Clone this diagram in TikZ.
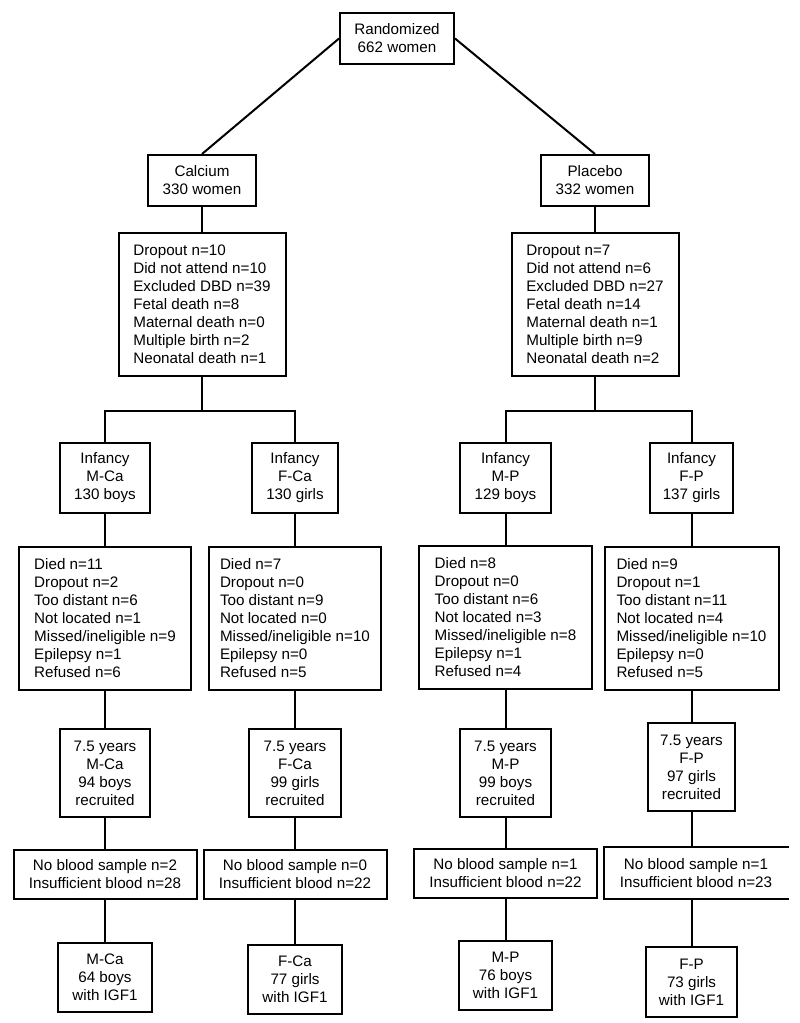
\documentclass[tikz,border=0pt]{standalone}
\usepackage{fontspec}
\setmainfont{Liberation Sans}
\usetikzlibrary{positioning}

\begin{document}
\begin{tikzpicture}[
    x=1pt, y=-1pt,
    box/.style={rectangle, draw, line width=2pt, inner sep=0pt, align=center, font=\fontsize{15.2}{18}\selectfont},
    arm/.style={box, minimum width=108pt, minimum height=51pt},
    list/.style={box, align=left, minimum height=143pt},
    infancy/.style={box, minimum height=70pt},
    recruit/.style={box, minimum height=88pt},
    blood/.style={box, minimum width=183pt, minimum height=49pt},
    igf/.style={box, minimum height=69pt},
    link/.style={line width=2pt}
]
\useasboundingbox (0,0) rectangle (800,1023);

% Randomization and the two arms
\node[box, minimum width=114pt, minimum height=51pt] (rand) at (397,38.5) {Randomized\\662 women};
\node[arm] (ca) at (202,180.5) {Calcium\\330 women};
\node[arm] (pl) at (595,180.5) {Placebo\\332 women};

\node[list, minimum width=167pt, below=25pt of ca] (ca-excl) {Dropout n=10\\Did not attend n=10\\Excluded DBD n=39\\Fetal death n=8\\Maternal death n=0\\Multiple birth n=2\\Neonatal death n=1};
\node[list, minimum width=167pt, below=25pt of pl] (pl-excl) {Dropout n=7\\Did not attend n=6\\Excluded DBD n=27\\Fetal death n=14\\Maternal death n=1\\Multiple birth n=9\\Neonatal death n=2};

\coordinate[below=34pt of ca-excl] (ca-split);
\coordinate[below=34pt of pl-excl] (pl-split);

% Infancy groups
\node[infancy, minimum width=90pt] (mca-inf) at (105,478) {Infancy\\M-Ca\\130 boys};
\node[infancy, minimum width=86pt] (fca-inf) at (295,478) {Infancy\\F-Ca\\130 girls};
\node[infancy, minimum width=91pt] (mp-inf) at (505.5,478) {Infancy\\M-P\\129 boys};
\node[infancy, minimum width=83pt] (fp-inf) at (691.5,478) {Infancy\\F-P\\137 girls};

% Losses after infancy
\node[list, minimum width=172pt, below=32pt of mca-inf] (mca-loss) {Died n=11\\Dropout n=2\\Too distant n=6\\Not located n=1\\Missed/ineligible n=9\\Epilepsy n=1\\Refused n=6};
\node[list, minimum width=172pt, below=32pt of fca-inf] (fca-loss) {Died n=7\\Dropout n=0\\Too distant n=9\\Not located n=0\\Missed/ineligible n=10\\Epilepsy n=0\\Refused n=5};
\node[list, minimum width=173pt, below=31pt of mp-inf] (mp-loss) {Died n=8\\Dropout n=0\\Too distant n=6\\Not located n=3\\Missed/ineligible n=8\\Epilepsy n=1\\Refused n=4};
\node[list, minimum width=174pt, below=32pt of fp-inf] (fp-loss) {Died n=9\\Dropout n=1\\Too distant n=11\\Not located n=4\\Missed/ineligible n=10\\Epilepsy n=0\\Refused n=5};

% Recruited at 7.5 years
\node[recruit, minimum width=90pt, below=37pt of mca-loss] (mca-rec) {7.5 years\\M-Ca\\94 boys\\recruited};
\node[recruit, minimum width=92pt, below=37pt of fca-loss] (fca-rec) {7.5 years\\F-Ca\\99 girls\\recruited};
\node[recruit, minimum width=91pt, below=38pt of mp-loss] (mp-rec) {7.5 years\\M-P\\99 boys\\recruited};
\node[recruit, minimum width=87pt, below=31pt of fp-loss] (fp-rec) {7.5 years\\F-P\\97 girls\\recruited};

% Blood samples
\node[blood, below=31pt of mca-rec] (mca-blood) {No blood sample n=2\\Insufficient blood n=28};
\node[blood, below=31pt of fca-rec] (fca-blood) {No blood sample n=0\\Insufficient blood n=22};
\node[blood, below=30pt of mp-rec] (mp-blood) {No blood sample n=1\\Insufficient blood n=22};
\node[blood, draw=none, minimum height=50pt, below=35pt of fp-rec, xshift=4.5pt] (fp-blood) {No blood sample n=1\\Insufficient blood n=23};

% Children with IGF1
\node[igf, minimum width=94pt, below=42pt of mca-blood] (mca-igf) {M-Ca\\64 boys\\with IGF1};
\node[igf, minimum width=94pt, below=44pt of fca-blood] (fca-igf) {F-Ca\\77 girls\\with IGF1};
\node[igf, minimum width=93pt, below=41pt of mp-blood] (mp-igf) {M-P\\76 boys\\with IGF1};
\node[igf, minimum width=91pt, minimum height=70pt, below=47pt of fp-blood, xshift=-4.5pt] (fp-igf) {F-P\\73 girls\\with IGF1};

% Connectors
\draw[link] (rand.west) -- (ca.north);
\draw[link] (rand.east) -- (pl.north);
\draw[link] (ca) -- (ca-excl) -- (ca-split);
\draw[link] (pl) -- (pl-excl) -- (pl-split);
\draw[link] (mca-inf.north) |- (ca-split) -| (fca-inf.north);
\draw[link] (mp-inf.north) |- (pl-split) -| (fp-inf.north);
\foreach \c in {mca,fca,mp,fp}
    \draw[link] (\c-inf) -- (\c-loss) -- (\c-rec);
\foreach \c in {mca,fca,mp}
    \draw[link] (\c-rec) -- (\c-blood) -- (\c-igf);
\draw[link] (fp-rec) -- (fp-rec |- fp-blood.north);
\draw[link] (fp-igf |- fp-blood.south) -- (fp-igf);

% F-P blood box is cut open on the right
\draw[link] (fp-blood.north east) -- (fp-blood.north west) -- (fp-blood.south west) -- (fp-blood.south east);

\end{tikzpicture}
\end{document}
